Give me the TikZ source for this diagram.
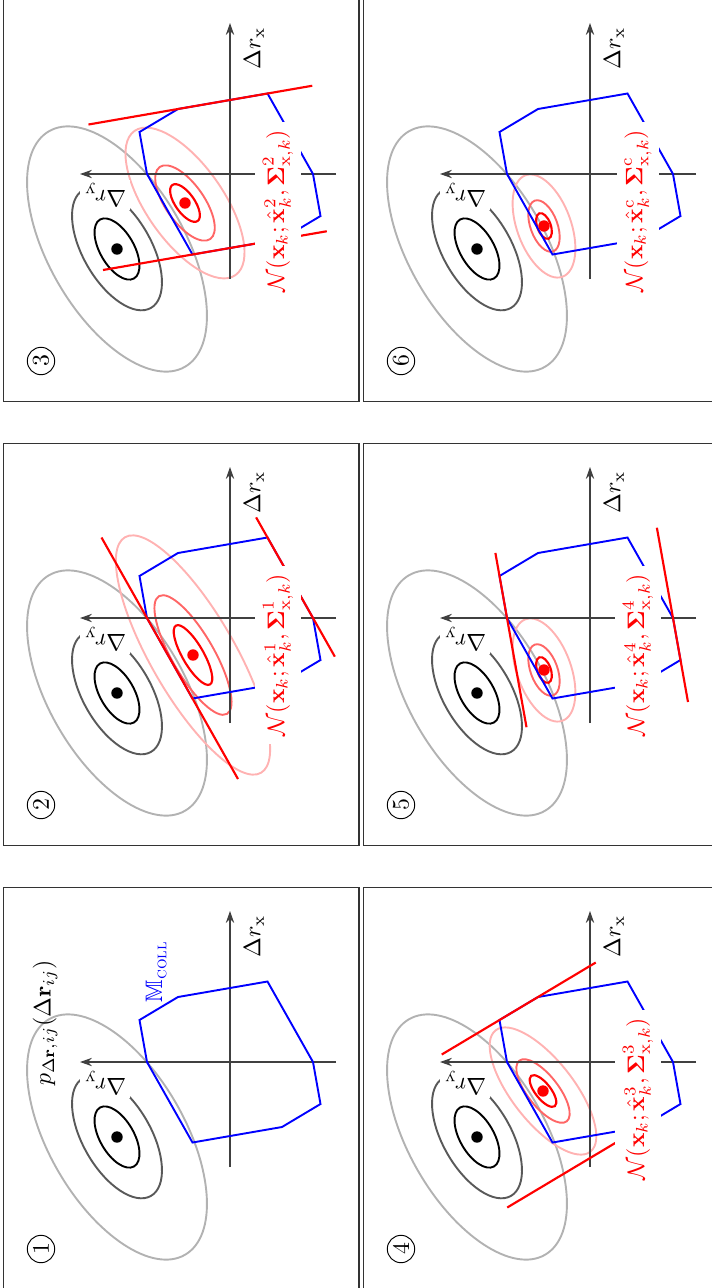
\documentclass[tikz,border=0pt]{standalone}
\usepackage{amsmath,amssymb}
\usetikzlibrary{calc,arrows.meta}
\tikzset{
  frame/.style={draw=black!80, line width=0.5pt},
  axis/.style={draw=black!75, line width=0.5pt, -{Stealth[length=5pt,width=3.5pt]}},
  gauss1/.style={draw=black, line width=0.8pt},
  gauss2/.style={draw=black!65, line width=0.8pt},
  gauss3/.style={draw=black!30, line width=0.8pt},
  est1/.style={draw=red, line width=0.9pt},
  est2/.style={draw=red!60, line width=0.8pt},
  est3/.style={draw=red!30, line width=0.8pt},
  coll/.style={draw=blue, line width=0.8pt, line join=miter},
  cut/.style={draw=red, line width=0.9pt},
  meandot/.style={circle, fill=black, inner sep=0pt, minimum size=4.8pt},
  estdot/.style={circle, fill=red, inner sep=0pt, minimum size=4.8pt},
  numlabel/.style={circle, draw, inner sep=0pt, minimum size=11.5pt},
  axlabel/.style={inner sep=1.5pt},
  estlabel/.style={fill=white, text=red, inner sep=3.33pt},
}
\newcommand\pbase{%
  \draw[frame] (-227.5,-129) rectangle (174.5,226.5);
  \draw[gauss3] (-75,113) circle [x radius=136, y radius=68, rotate=30];
  \draw[gauss2] (-75,113) circle [x radius=68, y radius=34, rotate=30];
  \draw[gauss1] (-75,113) circle [x radius=34, y radius=17, rotate=30];
}
\newcommand\pest[4]{% center, A, B, angle
  \draw[est3] (#1) circle [x radius=#2, y radius=#3, rotate=#4];
  \draw[est2] (#1) circle [x radius=#2/2, y radius=#3/2, rotate=#4];
  \draw[est1] (#1) circle [x radius=#2/4, y radius=#3/4, rotate=#4];
}
\newcommand\paxes[1]{%
  \coordinate (#1xs) at (-105,0); \coordinate (#1xe) at (151,0);
  \coordinate (#1ys) at (0,-106); \coordinate (#1ye) at (0,150);
  \draw[axis] (#1xs) -- (#1xe);
  \draw[axis] (#1ys) -- (#1ye);
  \coordinate (#1v1) at (0,83);
  \coordinate (#1v2) at (42,90.5);
  \coordinate (#1v3) at (65,52);
  \coordinate (#1v4) at (80.5,-37.5);
  \coordinate (#1v5) at (0,-83);
  \coordinate (#1v6) at (-42,-90.5);
  \coordinate (#1v7) at (-65,-52);
  \coordinate (#1v8) at (-80.5,37.5);
  \draw[coll] (#1v1) -- (#1v2) -- (#1v3) -- (#1v4) -- (#1v5) -- (#1v6) -- (#1v7) -- (#1v8) -- cycle;
}
\newcommand\plabels[2]{%
  \node[axlabel] (#1lx) at (125.5,-24) {$\Delta r_{\mathrm{x}}$};
  \node[axlabel, fill=white, rotate=90] (#1ly) at (-21,125) {$\Delta r_{\mathrm{y}}$};
  \node[meandot] (#1mean) at (-75,113) {};
  \node[numlabel] (#1num) at (-187,189) {#2};
}
\begin{document}
\begin{tikzpicture}[x=0.42pt,y=0.42pt]
\useasboundingbox (0,0) rectangle (712,-1288);
\clip (0,0) rectangle (712,-1288);
% ---------- panel 1
\begin{scope}[shift={(230,-1062)}, rotate=90, transform shape]
  \pbase
  \paxes{a}
  \plabels{a}{1}
  \node (apl) at (39,185) {$p_{\Delta\mathbf{r},ij}(\Delta\mathbf{r}_{ij})$};
  \node[text=blue] (amc) at (90.5,73.5) {$\mathbb{M}_{\text{\textsc{coll}}}$};
\end{scope}
% ---------- panel 2
\begin{scope}[shift={(230,-618)}, rotate=90, transform shape]
  \pbase
  \pest{-37,37}{136}{42}{30}
  \paxes{b}
  \draw[cut] ($(bv8)!-1!(bv1)$) -- ($(bv8)!2!(bv1)$);
  \draw[cut] ($(bv5)!-0.48!(bv4)$) -- ($(bv5)!1.25!(bv4)$);
  \plabels{b}{2}
  \node[estlabel] (blab) at (-37,-48) {$\mathcal{N}(\mathbf{x}_k;\hat{\mathbf{x}}_k^{1},\boldsymbol{\Sigma}^{1}_{\mathrm{x},k})$};
  \node[estdot] (bmu) at (-37,37) {};
\end{scope}
% ---------- panel 3
\begin{scope}[shift={(230,-174)}, rotate=90, transform shape]
  \pbase
  \pest{-29,45}{88}{38.5}{35}
  \paxes{c}
  \draw[cut] ($(cv3)!-1!(cv4)$) -- ($(cv3)!1.5!(cv4)$);
  \draw[cut] ($(cv8)!-1!(cv7)$) -- ($(cv8)!1.5!(cv7)$);
  \plabels{c}{3}
  \node[estlabel] (clab) at (-37,-48) {$\mathcal{N}(\mathbf{x}_k;\hat{\mathbf{x}}_k^{2},\boldsymbol{\Sigma}^{2}_{\mathrm{x},k})$};
  \node[estdot] (cmu) at (-29,45) {};
\end{scope}
% ---------- panel 4
\begin{scope}[shift={(590,-1062)}, rotate=90, transform shape]
  \pbase
  \pest{-29,47}{77}{31}{38}
  \paxes{d}
  \draw[cut] ($(dv2)!-1.5!(dv3)$) -- ($(dv2)!2.5!(dv3)$);
  \draw[cut] ($(dv7)!-3.5!(dv6)$) -- ($(dv7)!0.4!(dv6)$);
  \plabels{d}{4}
  \node[estlabel] (dlab) at (-37,-48) {$\mathcal{N}(\mathbf{x}_k;\hat{\mathbf{x}}_k^{3},\boldsymbol{\Sigma}^{3}_{\mathrm{x},k})$};
  \node[estdot] (dmu) at (-29,47) {};
\end{scope}
% ---------- panel 5
\begin{scope}[shift={(590,-618)}, rotate=90, transform shape]
  \pbase
  \pest{-52,46}{54}{27}{20}
  \paxes{e}
  \draw[cut] ($(ev1)!-2.6!(ev2)$) -- ($(ev1)!1.55!(ev2)$);
  \draw[cut] ($(ev6)!-1!(ev5)$) -- ($(ev6)!3.15!(ev5)$);
  \plabels{e}{5}
  \node[estlabel] (elab) at (-37,-48) {$\mathcal{N}(\mathbf{x}_k;\hat{\mathbf{x}}_k^{4},\boldsymbol{\Sigma}^{4}_{\mathrm{x},k})$};
  \node[estdot] (emu) at (-52,46) {};
\end{scope}
% ---------- panel 6
\begin{scope}[shift={(590,-174)}, rotate=90, transform shape]
  \pbase
  \pest{-52,46}{54}{27}{20}
  \paxes{f}
  \plabels{f}{6}
  \node[estlabel] (flab) at (-37,-48) {$\mathcal{N}(\mathbf{x}_k;\hat{\mathbf{x}}_k^{\mathrm{c}},\boldsymbol{\Sigma}^{\mathrm{c}}_{\mathrm{x},k})$};
  \node[estdot] (fmu) at (-52,46) {};
\end{scope}
\end{tikzpicture}
\end{document}
